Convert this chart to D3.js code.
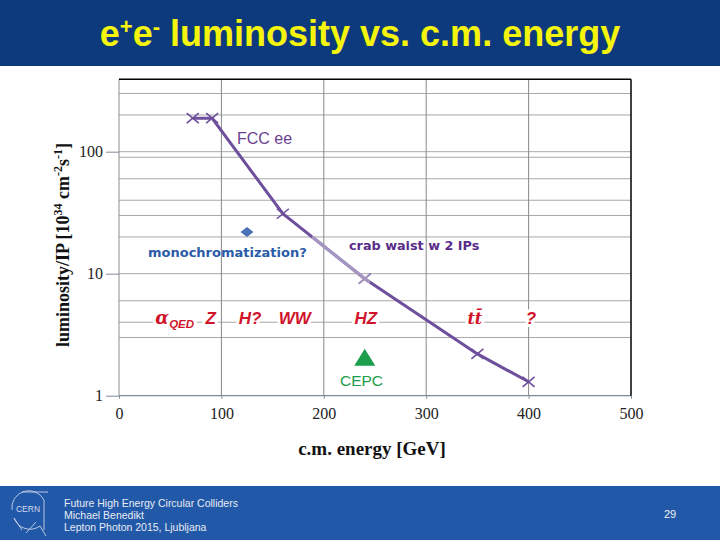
<!DOCTYPE html>
<html>
<head>
<meta charset="utf-8">
<script src="https://cdn.jsdelivr.net/npm/d3@7"></script>
<style>
  body { margin: 0; background: #fff; }
  svg { display: block; }
</style>
</head>
<body>
<div id="chart"></div>
<script>
/**
 * e+e- luminosity vs. c.m. energy - FCC-ee curve, monochromatization point, CEPC point
 */
// FCC-ee luminosity per IP (10^34 cm^-2 s^-1) vs c.m. energy (GeV)
const fccEnergy = [72, 91, 160, 240, 350, 400];
const fccLumi = [188, 188, 31, 9.1, 2.2, 1.3];

const monoEnergy = [125];
const monoLumi = [22];

const cepcEnergy = [240];
const cepcLumi = [2.05];

const xTicks = [0, 100, 200, 300, 400, 500];
const yTicks = [1, 10, 100];
const yGrid = [3, 4, 6, 10, 20, 30, 40, 60, 90, 100, 200, 300];

// physics labels along the curve (centre energy in GeV)
const processNames = ["Z", "H?", "WW", "HZ", "?"];
const processEnergy = [89.5, 128, 171.7, 241, 402.4];

const width = 720, height = 540;
const plot = {left: 119, right: 631, top: 79.3, bottom: 395.7};
const purple = "#6e4f9c";
const red = "#d0142a";

const svg = d3.select("#chart").append("svg")
    .attr("width", width)
    .attr("height", height);

// header and footer bands
svg.append("rect").attr("x", 0).attr("y", 0).attr("width", width).attr("height", 66).attr("fill", "#0d3a7c");
svg.append("rect").attr("x", 0).attr("y", 486).attr("width", width).attr("height", 54).attr("fill", "#2158a8");

let title = svg.append("text")
    .attr("x", 360).attr("y", 46)
    .attr("text-anchor", "middle")
    .style("font-family", "'Liberation Sans Narrow', 'Liberation Sans', Arial, sans-serif")
    .style("font-weight", "bold")
    .style("font-size", "36px")
    .attr("fill", "#f4f40c");
title.append("tspan").text("e");
title.append("tspan").text("+").attr("baseline-shift", "super").style("font-size", "22px");
title.append("tspan").text("e");
title.append("tspan").text("-").attr("baseline-shift", "super").style("font-size", "22px");
title.append("tspan").text(" luminosity vs. c.m. energy");

const x = d3.scaleLinear().domain([0, 500]).range([plot.left, plot.right]);
const y = d3.scaleLog().domain([1, 392]).range([plot.bottom, plot.top]);

// grid
svg.append("g").selectAll("line")
    .data(yGrid)
    .join("line")
    .attr("x1", plot.left).attr("x2", plot.right)
    .attr("y1", d => y(d)).attr("y2", d => y(d))
    .attr("stroke", "#a8a8a8").attr("stroke-width", 1);

svg.append("g").selectAll("line")
    .data(xTicks.slice(1, -1))
    .join("line")
    .attr("x1", d => x(d)).attr("x2", d => x(d))
    .attr("y1", plot.top).attr("y2", plot.bottom)
    .attr("stroke", "#888").attr("stroke-width", 1);

// axes
const xAxis = svg.append("g")
    .attr("transform", "translate(0," + plot.bottom + ")")
    .call(d3.axisBottom(x).tickValues(xTicks).tickSize(3).tickPadding(9).tickFormat(d3.format("d")));
xAxis.select(".domain").remove();
xAxis.selectAll("line").attr("stroke", "#7f8a99");
xAxis.selectAll("text")
    .style("font-family", "'Liberation Serif', 'Times New Roman', serif")
    .style("font-size", "16px")
    .attr("fill", "#222");

const yAxis = svg.append("g")
    .attr("transform", "translate(" + plot.left + ",0)")
    .call(d3.axisLeft(y).tickValues(yTicks).tickSize(13).tickPadding(3).tickFormat(d3.format("d")));
yAxis.select(".domain").remove();
yAxis.selectAll("line").attr("stroke", "#7f8a99");
yAxis.selectAll("text")
    .style("font-family", "'Liberation Serif', 'Times New Roman', serif")
    .style("font-size", "16px")
    .attr("fill", "#222");

// frame: grey left/bottom, black top/right
svg.append("line").attr("x1", plot.left).attr("x2", plot.left).attr("y1", plot.top).attr("y2", plot.bottom).attr("stroke", "#8c8c8c");
svg.append("line").attr("x1", plot.left).attr("x2", plot.right).attr("y1", plot.bottom).attr("y2", plot.bottom).attr("stroke", "#7f8a99").attr("stroke-width", 1.3);
svg.append("line").attr("x1", plot.left).attr("x2", plot.right).attr("y1", plot.top).attr("y2", plot.top).attr("stroke", "#000").attr("stroke-width", 1.5);
svg.append("line").attr("x1", plot.right).attr("x2", plot.right).attr("y1", plot.top).attr("y2", plot.bottom).attr("stroke", "#000").attr("stroke-width", 1.5);

// FCC-ee curve
const fccData = fccEnergy.map((e, i) => ({e: e, l: fccLumi[i]}));
const line = d3.line().x(d => x(d.e)).y(d => y(d.l));

function drawCurve(g, color) {
    g.append("path")
        .datum(fccData)
        .attr("d", line)
        .attr("fill", "none")
        .attr("stroke", color)
        .attr("stroke-width", 3);
    g.selectAll("path.cross")
        .data(fccData)
        .join("path")
        .attr("class", "cross")
        .attr("d", d => {
            const cx = x(d.e), cy = y(d.l);
            return "M" + (cx - 6) + "," + (cy - 5) + "L" + (cx + 6) + "," + (cy + 5) +
                "M" + (cx - 6) + "," + (cy + 5) + "L" + (cx + 6) + "," + (cy - 5);
        })
        .attr("stroke", color)
        .attr("stroke-width", 1.6)
        .attr("fill", "none");
}
drawCurve(svg.append("g"), purple);

// lighter part of the curve under the crab-waist label box
svg.append("clipPath").attr("id", "fadeClip")
    .append("rect").attr("x", 312).attr("y", 225).attr("width", 58).attr("height", 62);
drawCurve(svg.append("g").attr("clip-path", "url(#fadeClip)"), "#a596c2");

// monochromatization point
svg.append("g").selectAll("path")
    .data(monoEnergy)
    .join("path")
    .attr("transform", (d, i) => "translate(" + x(d) + "," + y(monoLumi[i]) + ")")
    .attr("d", "M0,-5L6.5,0L0,5L-6.5,0Z")
    .attr("fill", "#4a70b8");

// CEPC point
svg.append("g").selectAll("path")
    .data(cepcEnergy)
    .join("path")
    .attr("transform", (d, i) => "translate(" + x(d) + "," + y(cepcLumi[i]) + ")")
    .attr("d", "M0,-9L10.5,8L-10.5,8Z")
    .attr("fill", "#1c9e4c");

// annotations
svg.append("text").attr("x", 237).attr("y", 144)
    .style("font-family", "'Liberation Sans', Arial, sans-serif").style("font-size", "16px")
    .attr("fill", "#6b3f8f").text("FCC ee");

svg.append("text").attr("x", 148).attr("y", 257)
    .style("font-family", "'DejaVu Sans', Verdana, sans-serif").style("font-size", "13px").style("font-weight", "bold")
    .attr("fill", "#2a5ca8").text("monochromatization?");

svg.append("text").attr("x", 349).attr("y", 250)
    .style("font-family", "'DejaVu Sans', Verdana, sans-serif").style("font-size", "12.8px").style("font-weight", "bold")
    .attr("fill", "#5a2d8a").text("crab waist w 2 IPs");

svg.append("text").attr("x", 340).attr("y", 386)
    .style("font-family", "'Liberation Sans', Arial, sans-serif").style("font-size", "15.5px")
    .attr("fill", "#1c9e4c").text("CEPC");

// red process labels
const labelY = 324;
const redLabels = svg.append("g")
    .style("font-family", "'Liberation Sans', Arial, sans-serif")
    .style("font-weight", "bold")
    .style("font-style", "italic")
    .style("font-size", "17px")
    .attr("fill", red)
    .attr("stroke", "#fff").attr("stroke-width", 6)
    .style("paint-order", "stroke")
    .attr("stroke-linejoin", "round");

redLabels.selectAll("text.proc")
    .data(processNames)
    .join("text")
    .attr("class", "proc")
    .attr("x", (d, i) => x(processEnergy[i]))
    .attr("y", labelY)
    .attr("text-anchor", "middle")
    .text(d => d);

let alpha = redLabels.append("text").attr("x", x(54.4)).attr("y", labelY).attr("text-anchor", "middle");
alpha.append("tspan").text("\u03b1").style("font-family", "'DejaVu Serif', serif").style("font-size", "18px");
alpha.append("tspan").text("QED").attr("baseline-shift", "-4").style("font-size", "11.5px");

redLabels.append("text").attr("x", x(347.5)).attr("y", labelY)
    .attr("text-anchor", "middle")
    .style("font-family", "'DejaVu Serif', serif")
    .style("font-size", "16px")
    .text("tt\u0304");

// axis titles
svg.append("text").attr("x", 372).attr("y", 454.5)
    .attr("text-anchor", "middle")
    .style("font-family", "'Liberation Serif', 'Times New Roman', serif")
    .style("font-weight", "bold").style("font-size", "19px")
    .attr("fill", "#111").text("c.m. energy [GeV]");

let yTitle = svg.append("text")
    .attr("transform", "translate(69,245) rotate(-90)")
    .attr("text-anchor", "middle")
    .style("font-family", "'Liberation Serif', 'Times New Roman', serif")
    .style("font-weight", "bold").style("font-size", "18px")
    .attr("fill", "#111");
yTitle.append("tspan").text("luminosity/IP [10");
yTitle.append("tspan").text("34").attr("baseline-shift", "super").style("font-size", "12px");
yTitle.append("tspan").text(" cm");
yTitle.append("tspan").text("-2").attr("baseline-shift", "super").style("font-size", "12px");
yTitle.append("tspan").text("s");
yTitle.append("tspan").text("-1").attr("baseline-shift", "super").style("font-size", "12px");
yTitle.append("tspan").text("]");

// footer
const footerLines = ["Future High Energy Circular Colliders", "Michael Benedikt", "Lepton Photon 2015, Ljubljana"];
svg.append("g").selectAll("text")
    .data(footerLines)
    .join("text")
    .attr("x", 64)
    .attr("y", (d, i) => 507 + i * 12)
    .style("font-family", "'Liberation Sans', Arial, sans-serif")
    .style("font-size", "10.5px")
    .attr("fill", "#e8ecf4")
    .text(d => d);

svg.append("text").attr("x", 670).attr("y", 518)
    .attr("text-anchor", "middle")
    .style("font-family", "'Liberation Sans', Arial, sans-serif")
    .style("font-size", "11px")
    .attr("fill", "#f2f2f2").text("29");

// CERN logo (rough outline)
const logo = svg.append("g").attr("fill", "none").attr("stroke", "#c9d3ea").attr("stroke-width", 0.9);
logo.append("path").attr("d", "M12,510 A17,17 0 0 1 44,500");
logo.append("path").attr("d", "M14,518 A17,17 0 0 0 40,526");
logo.append("path").attr("d", "M22,492 L48,492");
logo.append("path").attr("d", "M44,500 L44,530 M40,526 L46,536 M14,518 L22,530 M26,533 L36,522");
svg.append("text").attr("x", 28).attr("y", 512)
    .attr("text-anchor", "middle")
    .style("font-family", "'Liberation Sans', Arial, sans-serif")
    .style("font-size", "8.5px")
    .attr("fill", "#d4dcef").text("CERN");
</script>
</body>
</html>
